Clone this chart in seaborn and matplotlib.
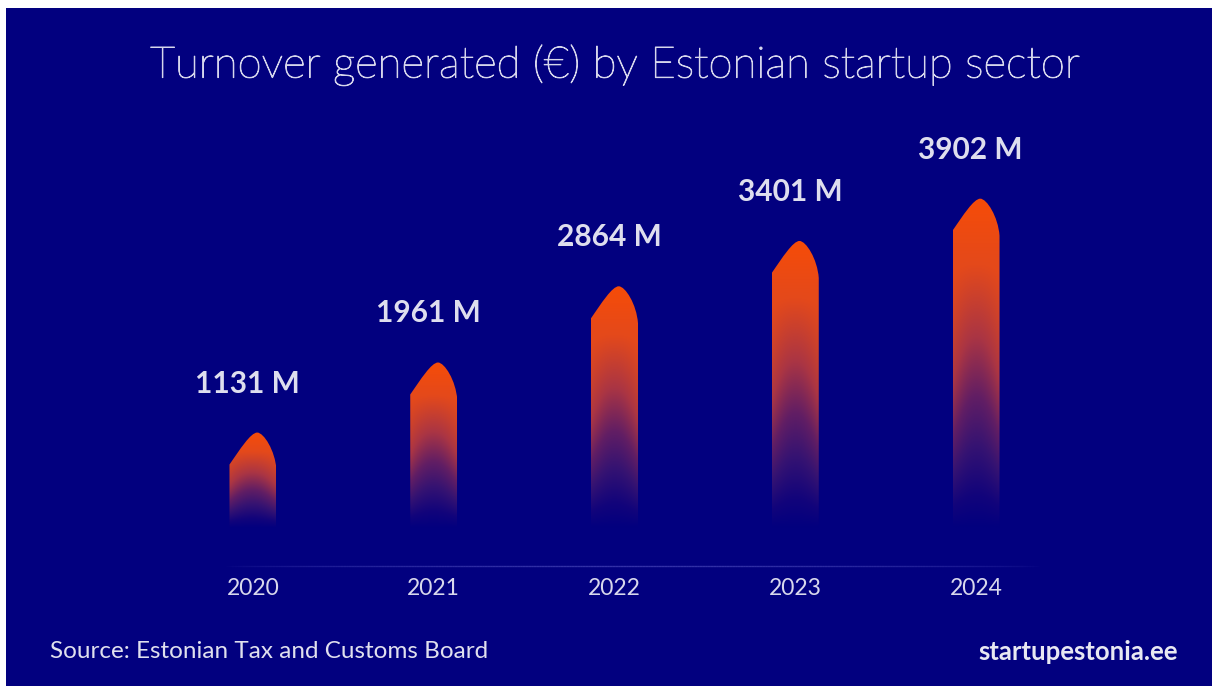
import numpy as np
import pandas as pd
import matplotlib
matplotlib.use("Agg")
import matplotlib.pyplot as plt
import matplotlib.patheffects as pe
import seaborn as sns
from matplotlib.path import Path
from matplotlib.patches import PathPatch, Rectangle
from matplotlib.colors import LinearSegmentedColormap
from matplotlib.collections import LineCollection

# ---- data -------------------------------------------------------------
years = ["2020", "2021", "2022", "2023", "2024"]
turnover_m = [1131, 1961, 2864, 3401, 3902]
value_labels = ["1131 M", "1961 M", "2864 M", "3401 M", "3902 M"]

title = "Turnover generated (€) by Estonian startup sector"
source = "Source: Estonian Tax and Customs Board"
brand = "startupestonia.ee"

# ---- style ------------------------------------------------------------
NAVY = "#02007f"
TEXT = "#dedeee"
sns.set_theme(style="white")
plt.rcParams["font.family"] = ["Lato", "DejaVu Sans"]

W, H = 1212, 686
fig = plt.figure(figsize=(W / 100, H / 100), dpi=100)
fig.patch.set_facecolor("white")
fig.add_artist(Rectangle((6 / W, 0), 1, 678 / H, transform=fig.transFigure,
                         facecolor=NAVY, edgecolor="none", zorder=0))

ax_rect = [162.6 / W, 120 / H, 903.8 / W, 466 / H]
ax = fig.add_axes(ax_rect)
ax.set_facecolor("none")

df = pd.DataFrame({"year": years, "turnover": turnover_m})
sns.barplot(data=df, x="year", y="turnover", width=0.26, ax=ax,
            color="#f24a0a", saturation=1, order=years)

XLIM = (-0.5, 4.5)
YLIM = (-450, 5071)
ax.set_xlim(*XLIM)
ax.set_ylim(*YLIM)

# data units per pixel
ux = (XLIM[1] - XLIM[0]) / (ax_rect[2] * W)
uy = (YLIM[1] - YLIM[0]) / (ax_rect[3] * H)

# vertical gradient: navy at the base, glowing orange at the tip
grad = LinearSegmentedColormap.from_list(
    "glow",
    [(0.00, NAVY),
     (0.10, "#12047b"),
     (0.25, "#361372"),
     (0.40, "#621e64"),
     (0.58, "#aa3544"),
     (0.80, "#e4491b"),
     (1.00, "#f64c08")],
)

bars = list(ax.patches)
for i, (patch, v) in enumerate(zip(bars, turnover_m)):
    L = patch.get_x()
    w = patch.get_width()
    R = L + w
    top = patch.get_height()
    patch.set_visible(False)

    peak_x = L + 0.59 * w
    verts = [
        (L, 0),
        (L, top - 32 * uy),
        (L + 0.22 * w, top - 17 * uy), (L + 0.45 * w, top), (peak_x, top),
        (peak_x + 0.14 * w, top), (R - 0.03 * w, top - 18 * uy), (R, top - 37 * uy),
        (R, 0),
        (L, 0),
    ]
    codes = [Path.MOVETO, Path.LINETO,
             Path.CURVE4, Path.CURVE4, Path.CURVE4,
             Path.CURVE4, Path.CURVE4, Path.CURVE4,
             Path.LINETO, Path.CLOSEPOLY]
    shape = PathPatch(Path(verts, codes), transform=ax.transData,
                      facecolor="none", edgecolor="none", zorder=2)
    ax.add_patch(shape)

    ny, nx = 500, 120
    yn = np.linspace(0, 1, ny)[:, None]
    xn = np.linspace(-1, 1, nx)[None, :]
    s = yn + 0.14 * xn ** 2 * np.sin(np.pi * np.clip(yn * 1.2, 0, 1))
    s = np.clip(s, 0, 1)
    img = grad(s)
    im = ax.imshow(img, extent=(L, R, 0, top), origin="lower",
                   aspect="auto", interpolation="bilinear", zorder=2)
    im.set_clip_path(shape)

    ax.text(L + w / 2 - 0.03, top + 49 * uy, value_labels[i],
            ha="center", va="center", fontsize=21.5, fontweight="bold",
            color=TEXT, zorder=3)

ax.set_xlim(*XLIM)
ax.set_ylim(*YLIM)

# faint baseline fading out toward both ends
xs = np.linspace(-0.15, 4.35, 300)
segs = [[(xs[k], YLIM[0]), (xs[k + 1], YLIM[0])] for k in range(len(xs) - 1)]
mid = (xs[:-1] + xs[1:]) / 2
alpha = np.sin(np.pi * (mid - xs[0]) / (xs[-1] - xs[0])) ** 0.6 * 0.35
cols = [(0.55, 0.55, 0.95, a) for a in alpha]
ax.add_collection(LineCollection(segs, colors=cols, linewidths=1.0,
                                 clip_on=False, zorder=1))

ax.set_xlabel("")
ax.set_ylabel("")
ax.set_yticks([])
ax.set_xticks(range(len(years)))
ax.set_xticklabels(years)
ax.tick_params(axis="x", length=0, pad=8.5, labelsize=16.5, labelcolor="#d8d8ec")
for sp in ax.spines.values():
    sp.set_visible(False)

TITLE_C = "#d6d6ec"
fig.text(615 / W, 1 - 65 / H, title, ha="center", va="center",
         fontsize=31.5, fontweight="light", color=TITLE_C,
         path_effects=[pe.withStroke(linewidth=0.7, foreground=TITLE_C)])
fig.text(50 / W, 1 - 652 / H, source, ha="left", va="center",
         fontsize=17.5, color="#e0e0ee")
fig.text(1178 / W, 1 - 652 / H, brand, ha="right", va="center",
         fontsize=18.5, fontweight="bold", color="#e8e8f2")

fig.savefig("out.png", dpi=100, facecolor=fig.get_facecolor())
